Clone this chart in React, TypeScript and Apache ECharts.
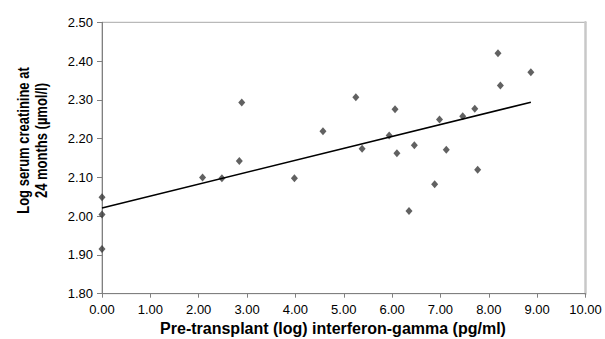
import React, { useEffect, useRef } from "react";
import * as echarts from "echarts";

const xValues = [0, 0, 0, 2.08, 2.48, 2.84, 2.89, 3.98, 4.57, 5.25, 5.38, 5.94, 6.06, 6.1, 6.35, 6.46, 6.88, 6.98, 7.12, 7.46, 7.71, 7.77, 8.19, 8.24, 8.87];
const yValues = [2.049, 2.004, 1.915, 2.1, 2.098, 2.142, 2.293, 2.098, 2.219, 2.307, 2.174, 2.208, 2.276, 2.162, 2.013, 2.183, 2.082, 2.249, 2.171, 2.258, 2.277, 2.12, 2.42, 2.337, 2.371];
const trendX = [0, 8.87];
const trendY = [2.021, 2.294];
const xTicks = { min: 0, max: 10, interval: 1 };
const yTicks = { min: 1.8, max: 2.5, interval: 0.1 };
const xTitle = "Pre-transplant (log) interferon-gamma (pg/ml)";
const yTitle = "Log serum creatinine at\n24 months (µmol/l)";

export default function App() {
  const ref = useRef<HTMLDivElement>(null);
  useEffect(() => {
    document.body.style.margin = "0";
    const chart = echarts.init(ref.current!, null, { renderer: "svg" });
    const font = "'Liberation Sans', Arial, sans-serif";
    chart.setOption({
      animation: false,
      backgroundColor: "#ffffff",
      grid: {
        left: 102,
        right: 19.5,
        top: 22.3,
        bottom: 45.3,
        show: true,
        borderColor: "#a8a8a8",
        borderWidth: 1,
      },
      xAxis: {
        type: "value",
        min: xTicks.min,
        max: xTicks.max,
        interval: xTicks.interval,
        axisLine: { show: true, lineStyle: { color: "#808080", width: 1 } },
        axisTick: { show: true, inside: false, length: 4, lineStyle: { color: "#808080" } },
        splitLine: { show: false },
        axisLabel: {
          margin: 9,
          color: "#000",
          fontFamily: font,
          fontSize: 13,
          formatter: (v: number) => v.toFixed(2),
        },
      },
      yAxis: [
        {
          type: "value",
          min: yTicks.min,
          max: yTicks.max,
          interval: yTicks.interval,
          axisLine: { show: true, lineStyle: { color: "#808080", width: 1 } },
          axisTick: { show: true, inside: false, length: 5, lineStyle: { color: "#808080" } },
          splitLine: { show: false },
          axisLabel: {
            margin: 9,
            color: "#000",
            fontFamily: font,
            fontSize: 13,
            formatter: (v: number) => v.toFixed(2),
          },
        },
        {
          type: "value",
          position: "right",
          min: yTicks.min,
          max: yTicks.max,
          interval: yTicks.interval,
          axisLine: { show: true, lineStyle: { color: "#c8c8c8", width: 2.5 } },
          axisTick: { show: false },
          axisLabel: { show: false },
          splitLine: { show: false },
        },
      ],
      series: [
        {
          type: "scatter",
          data: xValues.map((x, i) => [x, yValues[i]]),
          symbol: "diamond",
          symbolSize: [7, 8],
          itemStyle: { color: "#3a3a3a" },
          z: 3,
        },
        {
          type: "line",
          data: trendX.map((x, i) => [x, trendY[i]]),
          showSymbol: false,
          symbol: "none",
          lineStyle: { color: "#000", width: 1.6 },
          z: 4,
        },
      ],
      graphic: [
        {
          type: "text",
          x: 333,
          y: 328,
          style: {
            text: xTitle,
            font: `bold 16px ${font}`,
            fill: "#000",
            align: "center",
            verticalAlign: "middle",
          },
        },
        {
          type: "text",
          x: 33,
          y: 140.5,
          rotation: Math.PI / 2,
          scaleY: 1.2,
          style: {
            text: yTitle,
            font: `bold 13px ${font}`,
            lineHeight: 15,
            fill: "#000",
            align: "center",
            verticalAlign: "middle",
          },
        },
      ],
    });
    return () => chart.dispose();
  }, []);
  return <div ref={ref} style={{ width: 605, height: 339 }} />;
}
